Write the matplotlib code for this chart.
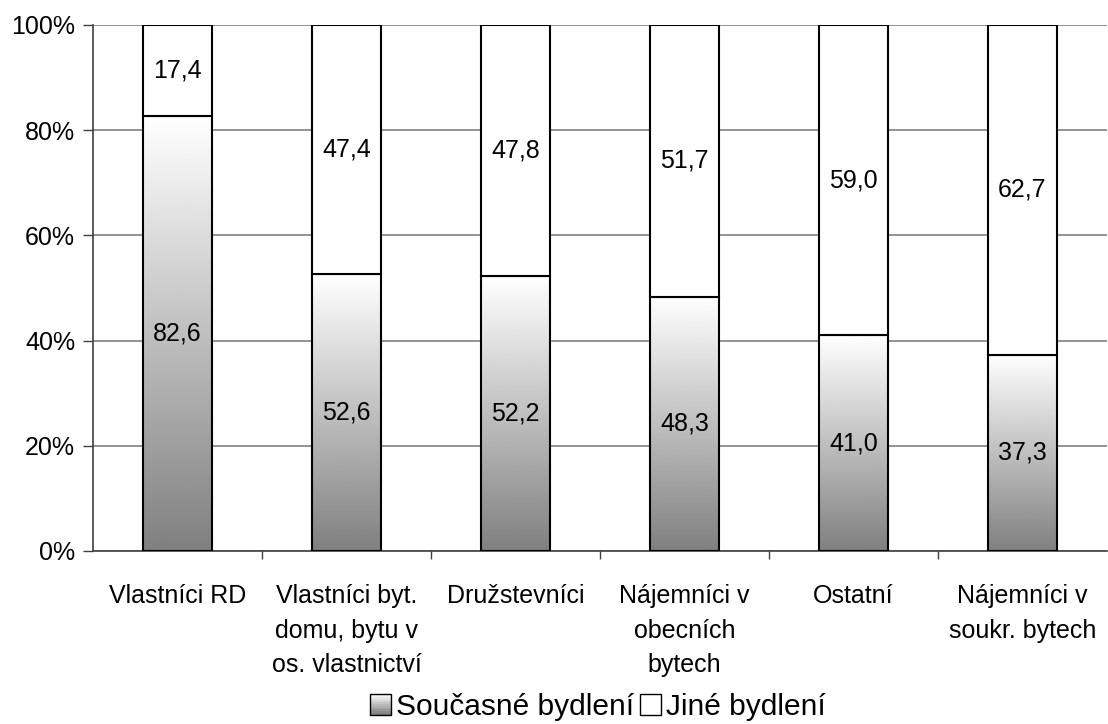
import numpy as np
import matplotlib.pyplot as plt
from matplotlib.legend_handler import HandlerBase
from matplotlib.patches import Rectangle
from matplotlib.ticker import FixedLocator

plt.rcParams['font.family'] = ['Liberation Sans', 'DejaVu Sans']

# Housing groups and share of respondents (%)
categories = ['Vlastníci RD',
              'Vlastníci byt.\ndomu, bytu v\nos. vlastnictví',
              'Družstevníci',
              'Nájemníci v\nobecních\nbytech',
              'Ostatní',
              'Nájemníci v\nsoukr. bytech']
soucasne = [82.6, 52.6, 52.2, 48.3, 41.0, 37.3]
jine = [17.4, 47.4, 47.8, 51.7, 59.0, 62.7]

FS = 18

fig = plt.figure(figsize=(11.08, 7.24), dpi=100)
ax = fig.add_axes([0.084, 0.239, 0.915, 0.7265])

x = np.arange(len(categories))
width = 0.41

# vertical gray-to-white gradient used for the lower segment
grad = np.linspace(0.5, 1.0, 256).reshape(-1, 1)

for i in range(len(categories)):
    low = soucasne[i]
    ax.imshow(grad, cmap='gray', vmin=0, vmax=1, origin='lower', aspect='auto',
              extent=(x[i] - width / 2, x[i] + width / 2, 0, low), zorder=2,
              interpolation='bilinear')
    ax.bar(x[i], low, width, facecolor='none', edgecolor='black', linewidth=1.5, zorder=3)
    ax.bar(x[i], jine[i], width, bottom=low, facecolor='white', edgecolor='black',
           linewidth=1.5, zorder=3)
    ax.text(x[i], low / 2, f'{low:.1f}'.replace('.', ','), ha='center', va='center',
            fontsize=FS, zorder=4)
    ax.text(x[i], low + jine[i] / 2, f'{jine[i]:.1f}'.replace('.', ','), ha='center',
            va='center', fontsize=FS, zorder=4)

ax.set_xlim(-0.5, len(categories) - 0.5)
ax.set_ylim(0, 100)
ax.set_yticks(range(0, 101, 20))
ax.set_yticklabels([f'{v}%' for v in range(0, 101, 20)], fontsize=FS)
ax.yaxis.grid(True, color='#808080', linewidth=1.2, zorder=0)
ax.set_axisbelow(True)

ax.set_xticks(x)
ax.set_xticklabels(categories, fontsize=FS, linespacing=1.55, va='top')
ax.tick_params(axis='x', length=0, pad=24)
ax.xaxis.set_minor_locator(FixedLocator(np.arange(0.5, len(categories) - 0.5)))
ax.tick_params(axis='x', which='minor', length=6, width=1, color='#404040')
ax.tick_params(axis='y', length=7, width=1, color='#404040', pad=6)

for side in ['top', 'right']:
    ax.spines[side].set_visible(False)
ax.spines['left'].set_color('#404040')
ax.spines['bottom'].set_color('#404040')
ax.spines['left'].set_linewidth(1.2)
ax.spines['bottom'].set_linewidth(1.2)


class GradientHandler(HandlerBase):
    def create_artists(self, legend, orig_handle, xdescent, ydescent, width, height,
                       fontsize, trans):
        artists = []
        n = 12
        size = height
        x0 = xdescent + (width - size)
        for k in range(n):
            c = 0.5 + 0.5 * k / (n - 1)
            artists.append(Rectangle((x0, -ydescent + size * k / n), size, size / n,
                                     facecolor=(c, c, c), edgecolor='none', transform=trans))
        artists.append(Rectangle((x0, -ydescent), size, size, facecolor='none',
                                 edgecolor='black', linewidth=1, transform=trans))
        return artists


class BoxHandler(HandlerBase):
    def create_artists(self, legend, orig_handle, xdescent, ydescent, width, height,
                       fontsize, trans):
        size = height
        x0 = xdescent + (width - size)
        return [Rectangle((x0, -ydescent), size, size, facecolor='white',
                          edgecolor='black', linewidth=1, transform=trans)]


h1 = Rectangle((0, 0), 1, 1)
h2 = Rectangle((0, 0), 1, 1)
fig.legend([h1, h2], ['Současné bydlení', 'Jiné bydlení'],
           handler_map={h1: GradientHandler(), h2: BoxHandler()},
           loc='center', bbox_to_anchor=(0.541, 0.024), ncol=2, frameon=False,
           fontsize=21.5, handlelength=0.6, handletextpad=0.17, columnspacing=0.3,
           borderpad=0.1)

fig.savefig('out.png', dpi=100)
